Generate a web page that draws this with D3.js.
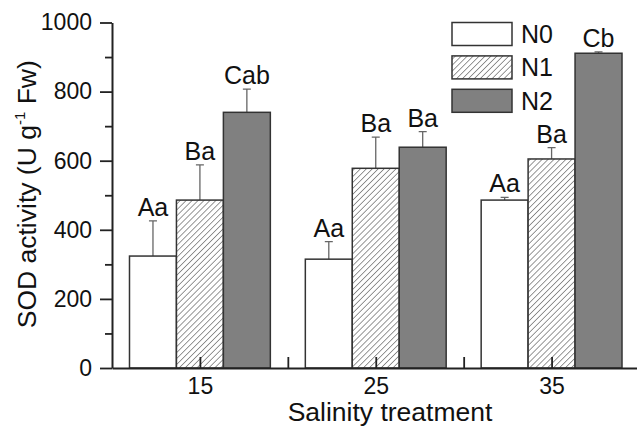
<!DOCTYPE html>
<html>
<head>
<meta charset="utf-8">
<script src="https://cdn.jsdelivr.net/npm/d3@7"></script>
<style>
  body { margin: 0; background: #fff; }
  text { font-family: Arial, "Liberation Sans", sans-serif; fill: #111; }
</style>
</head>
<body>
<svg id="graph" width="637" height="427"></svg>
<script>
// salinity levels and SOD values per nitrogen treatment
var salinity = [15, 25, 35];
var seriesNames = ['N0', 'N1', 'N2'];
var n0Values = [324, 315, 486];
var n0Errors = [102, 51, 8];
var n1Values = [486, 578, 605];
var n1Errors = [102, 90, 33];
var n2Values = [740, 639, 911];
var n2Errors = [67, 45, 4];
var n0Letters = ['Aa', 'Aa', 'Aa'];
var n1Letters = ['Ba', 'Ba', 'Ba'];
var n2Letters = ['Cab', 'Ba', 'Cb'];
var yTicks = [0, 200, 400, 600, 800, 1000];
var yMinor = [100, 300, 500, 700, 900];
var xMinor = [20, 30];

var series = [
  { name: 'N0', values: n0Values, errors: n0Errors, letters: n0Letters, fill: '#ffffff' },
  { name: 'N1', values: n1Values, errors: n1Errors, letters: n1Letters, fill: 'url(#hatch)' },
  { name: 'N2', values: n2Values, errors: n2Errors, letters: n2Letters, fill: '#808080' }
];

var MARGINS = { top: 22.5, right: 0, bottom: 59, left: 112 };
var WIDTH = 637, HEIGHT = 427;

var vis = d3.select('#graph');

var defs = vis.append('defs');
var pat = defs.append('pattern')
  .attr('id', 'hatch')
  .attr('patternUnits', 'userSpaceOnUse')
  .attr('width', 4.2)
  .attr('height', 4.2)
  .attr('patternTransform', 'rotate(45)');
pat.append('rect').attr('width', 4.2).attr('height', 4.2).attr('fill', '#fff');
pat.append('line')
  .attr('x1', 0).attr('y1', 0).attr('x2', 0).attr('y2', 4.2)
  .attr('stroke', '#444').attr('stroke-width', 1.1);

var xRange = d3.scaleLinear().domain([10, 40]).range([MARGINS.left, 639.5]);
var yRange = d3.scaleLinear().domain([0, 1000]).range([HEIGHT - MARGINS.bottom, MARGINS.top]);

var barW = 2.67; // in salinity units

// bars
series.forEach(function (s, si) {
  var off = (si - 1) * barW;
  var g = vis.append('g').attr('class', 'series');

  // error bars (upper only)
  g.selectAll('.err')
    .data(salinity)
    .enter().append('path')
    .attr('class', 'err')
    .attr('d', function (d, i) {
      var cx = xRange(d + off);
      var y0 = yRange(s.values[i]);
      var y1 = yRange(s.values[i] + s.errors[i]);
      return 'M' + cx + ',' + y0 + 'V' + y1 + 'M' + (cx - 4) + ',' + y1 + 'H' + (cx + 4);
    })
    .attr('stroke', '#666')
    .attr('stroke-width', 1.3)
    .attr('fill', 'none');

  g.selectAll('rect')
    .data(salinity)
    .enter().append('rect')
    .attr('x', function (d) { return xRange(d + off - barW / 2); })
    .attr('width', xRange(barW) - xRange(0))
    .attr('y', function (d, i) { return yRange(s.values[i]); })
    .attr('height', function (d, i) { return yRange(0) - yRange(s.values[i]); })
    .attr('fill', s.fill)
    .attr('stroke', '#333')
    .attr('stroke-width', 1.5);

  g.selectAll('.letter')
    .data(salinity)
    .enter().append('text')
    .attr('class', 'letter')
    .attr('x', function (d) { return xRange(d + off); })
    .attr('y', function (d, i) { return yRange(s.values[i] + s.errors[i]) - 5; })
    .attr('text-anchor', 'middle')
    .attr('font-size', 25)
    .text(function (d, i) { return s.letters[i]; });
});

// x axis
var xAxis = d3.axisBottom(xRange)
  .tickValues(salinity)
  .tickSizeInner(-11)
  .tickSizeOuter(0)
  .tickPadding(10)
  .tickFormat(d3.format('d'));

vis.append('g')
  .attr('class', 'x axis')
  .attr('transform', 'translate(0,' + yRange(0) + ')')
  .call(xAxis);

vis.append('g')
  .attr('transform', 'translate(0,' + yRange(0) + ')')
  .call(d3.axisBottom(xRange).tickValues(xMinor).tickSize(-11).tickFormat(''))
  .select('.domain').remove();

// y axis
var yAxis = d3.axisLeft(yRange)
  .tickValues(yTicks)
  .tickSizeInner(12)
  .tickSizeOuter(0)
  .tickPadding(8)
  .tickFormat(d3.format('d'));

vis.append('g')
  .attr('class', 'y axis')
  .attr('transform', 'translate(' + MARGINS.left + ',0)')
  .call(yAxis);

vis.append('g')
  .attr('transform', 'translate(' + MARGINS.left + ',0)')
  .call(d3.axisLeft(yRange).tickValues(yMinor).tickSize(7).tickFormat(''))
  .select('.domain').remove();

vis.selectAll('.axis text').attr('font-size', 23).attr('fill', '#111')
  .style('font-family', 'Arial, "Liberation Sans", sans-serif');
vis.selectAll('.tick line').attr('stroke', '#222').attr('stroke-width', 1.8);
vis.selectAll('.domain').attr('stroke', '#222').attr('stroke-width', 2);

// axis titles
vis.append('text')
  .attr('x', 390)
  .attr('y', 421)
  .attr('text-anchor', 'middle')
  .attr('font-size', 26.5)
  .text('Salinity treatment');

var yt = vis.append('text')
  .attr('transform', 'translate(36,' + ((yRange(0) + yRange(1000)) / 2 - 1) + ') rotate(-90)')
  .attr('text-anchor', 'middle')
  .attr('font-size', 26.5);
yt.append('tspan').text('SOD activity (U g');
yt.append('tspan').attr('font-size', 15).attr('dy', -11).text('-1');
yt.append('tspan').attr('dy', 11).text(' Fw)');

// legend
var legend = vis.append('g').attr('class', 'legend');
series.forEach(function (s, i) {
  var ly = 22.5 + i * 33.4;
  legend.append('rect')
    .attr('x', 452).attr('y', ly)
    .attr('width', 60).attr('height', 23)
    .attr('fill', s.fill)
    .attr('stroke', '#333')
    .attr('stroke-width', 1.5);
  legend.append('text')
    .attr('x', 521).attr('y', ly + 20.5)
    .attr('font-size', 25)
    .text(seriesNames[i]);
});
</script>
</body>
</html>
